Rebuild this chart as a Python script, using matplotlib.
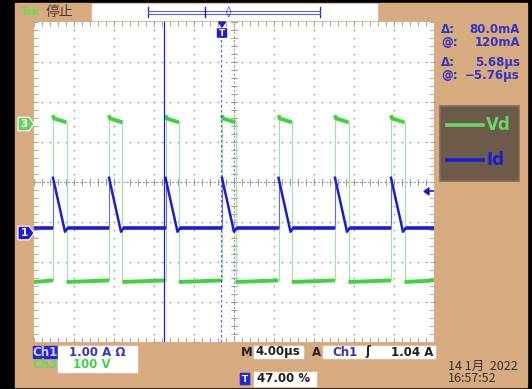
import matplotlib
matplotlib.use("Agg")
import matplotlib.pyplot as plt
from matplotlib.patches import Rectangle, Polygon, FancyBboxPatch
from matplotlib.transforms import blended_transform_factory
import numpy as np

W, H, DPI = 532, 389, 100

# ---- acquisition settings ----
time_per_div = 4.0        # µs/div
n_hdiv, n_vdiv = 10, 8
trigger_pos = 0.47        # fraction of record before trigger
ch1_scale = 1.00          # A/div
ch3_scale = 100.0         # V/div
ch1_ground_div = -1.275   # ground marker positions (divisions from centre)
ch3_ground_div = 1.45
trigger_level = 1.04      # A
cursor_t1 = -5.76         # µs
cursor_dt = 5.68          # µs

# ---- switching events (µs, relative to trigger) ----
rise_times = [-16.9, -11.3, -5.65, 0.0, 5.65, 11.3, 16.9]
vd_high_width = 1.35
id_ramp_width = 1.2
id_dip_width = 0.25

# ---- waveform levels ----
vd_overshoot = 22.0       # V
vd_high_start = 14.0
vd_high_end = 4.0
vd_low_start = -395.0
vd_low_end = -391.0
id_base = 0.12            # A
id_peak = 1.38
id_dip = 0.03

# ---- colours ----
TAN = "#d8aa80"
GREEN = "#3fd43f"
GREEN_EDGE = "#9ae89a"
BLUE = "#1c1cd6"
TXT_BLUE = "#3434c4"
GRID = "#8f8f8f"

t0 = -trigger_pos * n_hdiv * time_per_div
t1 = t0 + n_hdiv * time_per_div


def vd_div(v):
    return np.asarray(v) / ch3_scale + ch3_ground_div


def id_div(i):
    return np.asarray(i) / ch1_scale + ch1_ground_div


fig = plt.figure(figsize=(W / DPI, H / DPI), dpi=DPI)

# background frame
bg = fig.add_axes([0, 0, 1, 1], zorder=0)
bg.set_xlim(0, W)
bg.set_ylim(H, 0)
bg.axis("off")
bg.add_patch(Rectangle((0, 0), W, H, color="black"))
bg.add_patch(Rectangle((15, 3), 512, 384, color=TAN))

# top status bar
bg.text(30, 12, "Tek", color="#6fdc4f", fontsize=7, fontweight="bold",
        ha="center", va="center")
bg.text(59, 12, "停止", color="#4a3a2c", fontsize=10, ha="center", va="center",
        family=["Noto Sans CJK SC", "DejaVu Sans"])
bg.add_patch(Rectangle((92, 4), 285, 16, color="white"))
bg.plot([148, 148], [7, 17], color=BLUE, lw=0.9)
bg.plot([320, 320], [7, 17], color=BLUE, lw=0.9)
bg.plot([148, 320], [11, 11], color="#6060e0", lw=0.8)
bg.plot([148, 320], [14, 14], color="#6060e0", lw=0.8)
bg.plot([205, 205], [7, 17], color=BLUE, lw=1.0)
bg.text(229, 12, "◊", color=BLUE, fontsize=8, ha="center", va="center",
        fontweight="bold")

# cursor readouts
info_rows = [("Δ:", "80.0mA", 29), ("@:", "120mA", 42),
             ("Δ:", "5.68µs", 62), ("@:", "−5.76µs", 75)]
for lab, val, y in info_rows:
    bg.text(441, y, lab, color=TXT_BLUE, fontsize=8.5, fontweight="bold",
            ha="left", va="center")
    bg.text(520, y, val, color=TXT_BLUE, fontsize=8.5, fontweight="bold",
            ha="right", va="center")

# legend box
bg.add_patch(Rectangle((440, 106), 79, 75, facecolor="#6c5b49",
                       edgecolor="#7f6c58", lw=1.2))
bg.plot([447, 483], [125, 125], color="#66d866", lw=2.6)
bg.text(486, 125, "Vd", color="#66d866", fontsize=12, fontweight="bold",
        ha="left", va="center")
bg.plot([447, 483], [160, 160], color=BLUE, lw=2.6)
bg.text(486, 160, "Id", color=BLUE, fontsize=12, fontweight="bold",
        ha="left", va="center")

# bottom readouts
bg.add_patch(Rectangle((33, 346), 24, 12, color="#2626d8"))
bg.text(45, 352, "Ch1", color="#d0d0ff", fontsize=8.5, fontweight="bold",
        ha="center", va="center")
bg.add_patch(Rectangle((58, 346), 79, 12, color="white"))
bg.text(97, 352, "1.00 A Ω", color=TXT_BLUE, fontsize=8.5, fontweight="bold",
        ha="center", va="center")
bg.text(45, 365, "Ch3", color="#5ee05e", fontsize=8.5, fontweight="bold",
        ha="center", va="center")
bg.add_patch(Rectangle((58, 359), 79, 13, color="white"))
bg.text(92, 365, "100 V", color="#3ed43e", fontsize=8.5, fontweight="bold",
        ha="center", va="center")

bg.text(247, 352, "M", color="#202020", fontsize=8.5, fontweight="bold",
        ha="center", va="center")
bg.add_patch(Rectangle((254, 346), 49, 12, color="white"))
bg.text(278, 352, f"{time_per_div:.2f}µs", color="#202020", fontsize=8.5,
        fontweight="bold", ha="center", va="center")
bg.text(317, 352, "A", color="#202020", fontsize=8.5, fontweight="bold",
        ha="center", va="center")
bg.add_patch(Rectangle((323, 346), 112, 12, color="white"))
bg.text(345, 352, "Ch1", color=TXT_BLUE, fontsize=8.5, fontweight="bold",
        ha="center", va="center")
bg.text(368, 352, "ʃ", color="#202020", fontsize=8.5, fontweight="bold",
        ha="center", va="center")
bg.text(433, 352, f"{trigger_level:.2f} A", color="#202020", fontsize=8.5,
        fontweight="bold", ha="right", va="center")

bg.add_patch(FancyBboxPatch((241, 374), 8, 10, boxstyle="round,pad=0.6",
                            color="#2626d8"))
bg.text(245, 379, "T", color="white", fontsize=6.5, fontweight="bold",
        ha="center", va="center")
bg.add_patch(Rectangle((254, 372), 62, 14, color="white"))
bg.text(284, 379, f"{trigger_pos * 100:.2f} %", color="#202020", fontsize=8.5,
        fontweight="bold", ha="center", va="center")

bg.text(448, 366, "14 1月  2022", color="#303030", fontsize=9,
        fontweight="medium", ha="left", va="center",
        family=["Noto Sans CJK SC", "DejaVu Sans"])
bg.text(448, 378, "16:57:52", color="#303030", fontsize=9,
        fontweight="medium", ha="left", va="center",
        family=["Noto Sans CJK SC", "DejaVu Sans"])

# ---- graticule ----
ax = fig.add_axes([34 / W, 1 - 342 / H, 400 / W, 320 / H], zorder=1)
ax.set_facecolor("white")
ax.set_xlim(t0, t1)
ax.set_ylim(-n_vdiv / 2, n_vdiv / 2)
ax.set_xticks([])
ax.set_yticks([])
for s in ax.spines.values():
    s.set_visible(False)

t_center = t0 + n_hdiv / 2 * time_per_div
sub_t = np.arange(t0, t1 + 1e-9, time_per_div / 5)
sub_y = np.arange(-4, 4 + 1e-9, 0.2)
for k in range(1, n_hdiv):
    if k == n_hdiv // 2:
        continue
    tx = t0 + k * time_per_div
    ax.scatter(np.full(sub_y.size, tx), sub_y, s=1.3, color=GRID, lw=0)
for k in range(1, n_vdiv):
    yy = -4 + k
    if yy == 0:
        continue
    ax.scatter(sub_t, np.full(sub_t.size, yy), s=1.3, color=GRID, lw=0)

# centre cross with minor ticks
ax.axhline(0, color="#8a8a8a", lw=0.6, ls=(0, (3, 2)))
ax.axvline(t_center, color="#8a8a8a", lw=0.6, ls=(0, (3, 2)))
for tx in sub_t:
    ax.plot([tx, tx], [-0.08, 0.08], color="#8a8a8a", lw=0.6)
    ax.plot([tx, tx], [4, 3.9], color="#9a9a9a", lw=0.6)
    ax.plot([tx, tx], [-4, -3.9], color="#9a9a9a", lw=0.6)
for yy in sub_y:
    ax.plot([t_center - 0.3, t_center + 0.3], [yy, yy], color="#8a8a8a", lw=0.6)
    ax.plot([t0, t0 + 0.4], [yy, yy], color="#9a9a9a", lw=0.6)
    ax.plot([t1, t1 - 0.4], [yy, yy], color="#9a9a9a", lw=0.6)

# ---- Vd trace (Ch3) ----
prev = t0
for r in rise_times:
    ax.plot([prev, r], vd_div([vd_low_start, vd_low_end]), color=GREEN,
            lw=2.8, solid_capstyle="butt", zorder=3)
    ax.plot([r, r], vd_div([vd_low_end, vd_overshoot]), color=GREEN_EDGE,
            lw=0.8, zorder=2)
    f = r + vd_high_width
    ax.plot([r, r + 0.1, f], vd_div([vd_overshoot, vd_high_start, vd_high_end]),
            color=GREEN, lw=2.8, solid_capstyle="butt", zorder=3)
    ax.plot([f, f], vd_div([vd_high_end, vd_low_start]), color=GREEN_EDGE,
            lw=0.8, zorder=2)
    prev = f
ax.plot([prev, t1], vd_div([vd_low_start, vd_low_end]), color=GREEN,
        lw=2.8, solid_capstyle="butt", zorder=3)

# ---- Id trace (Ch1) ----
prev = t0
for r in rise_times:
    ax.plot([prev, r], id_div([id_base, id_base]), color=BLUE, lw=2.6,
            solid_capstyle="butt", zorder=4)
    ax.plot([r, r], id_div([id_base, id_peak]), color="#6a6ae6", lw=0.8,
            zorder=4)
    e = r + id_ramp_width
    ax.plot([r, e, e + id_dip_width], id_div([id_peak, id_dip, id_base]),
            color=BLUE, lw=1.8, zorder=4)
    prev = e + id_dip_width
ax.plot([prev, t1], id_div([id_base, id_base]), color=BLUE, lw=2.6,
        solid_capstyle="butt", zorder=4)

# cursors
ax.axvline(cursor_t1, color=BLUE, lw=0.9, zorder=5)
ax.axvline(cursor_t1 + cursor_dt, color=BLUE, lw=0.9, ls=(0, (2, 2)),
           alpha=0.7, zorder=5)

# ---- overlay markers ----
ov = fig.add_axes([0, 0, 1, 1], zorder=3)
ov.set_xlim(0, W)
ov.set_ylim(H, 0)
ov.axis("off")
ov.patch.set_alpha(0)

mix = blended_transform_factory(ov.transData, ax.transData)


def channel_marker(ydiv, label, fill):
    h = 0.17
    pts = [(18, ydiv + h), (29, ydiv + h), (34, ydiv), (29, ydiv - h),
           (18, ydiv - h)]
    ov.add_patch(Polygon(pts, closed=True, facecolor=fill, edgecolor="white",
                         lw=0.8, transform=mix))
    ov.text(24, ydiv, label, color="white", fontsize=7.5, fontweight="bold",
            ha="center", va="center", transform=mix)


channel_marker(ch3_ground_div, "3", "#62d062")
channel_marker(ch1_ground_div, "1", "#1c1cd6")

# trigger level arrow
trig_div = trigger_level / ch1_scale + ch1_ground_div
ov.add_patch(Polygon([(424, trig_div), (429, trig_div + 0.09),
                      (429, trig_div - 0.09)], closed=True, color=BLUE,
                     transform=mix))
ov.plot([428, 433], [trig_div, trig_div], color=BLUE, lw=1.2, transform=mix)

# trigger position marker
mix_x = blended_transform_factory(ax.transData, ov.transData)
ov.add_patch(Polygon([(-0.35, 22), (0.35, 22), (0.0, 27)], closed=True,
                     color=BLUE, transform=mix_x))
ov.add_patch(FancyBboxPatch((-0.3, 29), 0.6, 8, boxstyle="round,pad=0.15",
                            color=BLUE, transform=mix_x))
ov.text(0.0, 33, "T", color="white", fontsize=6.5, fontweight="bold",
        ha="center", va="center", transform=mix_x)

fig.savefig("out.png", dpi=DPI)
